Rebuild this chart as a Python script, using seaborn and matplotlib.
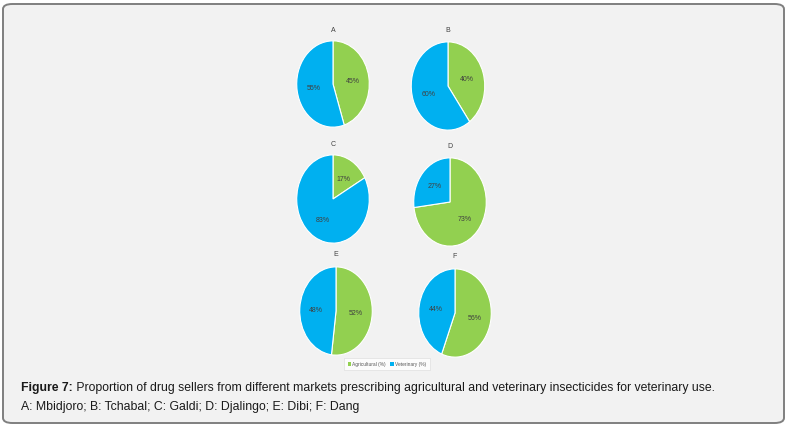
import matplotlib
matplotlib.use('Agg')
import matplotlib.pyplot as plt
from matplotlib.patches import FancyBboxPatch, Patch
import seaborn as sns

# data
markets = ['A', 'B', 'C', 'D', 'E', 'F']
agricultural = [45, 40, 17, 73, 52, 56]
veterinary = [55, 60, 83, 27, 48, 44]
series_names = ['Agricultural (%)', 'Veterinary (%)']
caption_bold = 'Figure 7:'
caption_rest = (' Proportion of drug sellers from different markets prescribing '
                'agricultural and veterinary insecticides for veterinary use.')
caption_line2 = 'A: Mbidjoro; B: Tchabal; C: Galdi; D: Djalingo; E: Dibi; F: Dang'

sns.set_style('white')
plt.rcParams['font.family'] = ['Liberation Sans', 'DejaVu Sans']
colors = sns.color_palette(['#92d050', '#00b0f0'])

W, H = 789, 427
fig = plt.figure(figsize=(W / 100, H / 100), dpi=100)
fig.patch.set_facecolor('white')

frame = FancyBboxPatch((3 / W, 3 / H), 781 / W, 419 / H,
                       boxstyle='round,pad=0,rounding_size=0.012',
                       transform=fig.transFigure, facecolor='#f2f2f2',
                       edgecolor='#7f7f7f', linewidth=1.4, zorder=-5)
fig.patches.append(frame)

# pie centres / sizes in pixels (cx, cy, w, h) and title y
pie_boxes = [(333, 85, 74, 88, 31), (448, 87, 75, 90, 31),
             (333, 200, 74, 90, 145), (450, 203, 74, 90, 147),
             (336, 312, 74, 90, 255), (455, 314, 74, 90, 257)]

for name, agri, vet, (cx, cy, w, h, ty) in zip(markets, agricultural, veterinary, pie_boxes):
    ax = fig.add_axes([(cx - w / 2) / W, 1 - (cy + h / 2) / H, w / W, h / H])
    ax.pie([agri, vet], colors=colors, startangle=90, counterclock=False,
           autopct=lambda p: f'{round(p)}%', pctdistance=0.55,
           wedgeprops={'edgecolor': 'white', 'linewidth': 0.8},
           textprops={'fontsize': 5, 'color': '#404040'})
    ax.set_aspect('auto')
    ax.set_xlim(-1.02, 1.02)
    ax.set_ylim(-1.02, 1.02)
    ax.axis('off')
    fig.text(cx / W, 1 - ty / H, name, ha='center', va='center',
             fontsize=5, color='#404040')

handles = [Patch(facecolor=c, edgecolor='none') for c in colors]
leg = fig.legend(handles, series_names, loc='center', bbox_to_anchor=(387 / W, 1 - 365 / H),
                 ncol=2, fontsize=3.5, frameon=True, fancybox=False,
                 handlelength=0.7, handleheight=0.7, handletextpad=0.3,
                 columnspacing=0.9, borderpad=0.8, labelcolor='#595959')
leg.get_frame().set_edgecolor('#d9d9d9')
leg.get_frame().set_linewidth(0.5)
leg.get_frame().set_facecolor('white')

cap_size = 8.8
t = fig.text(21 / W, 1 - 388 / H, caption_bold, fontsize=cap_size, fontweight='bold',
             color='#1a1a1a', va='center')
fig.canvas.draw()
bb = t.get_window_extent()
fig.text(bb.x1 / W, 1 - 388 / H, caption_rest, fontsize=cap_size,
         color='#1a1a1a', va='center')
fig.text(21 / W, 1 - 407 / H, caption_line2, fontsize=cap_size,
         color='#1a1a1a', va='center')

fig.savefig('out.png', dpi=100, facecolor=fig.get_facecolor())
